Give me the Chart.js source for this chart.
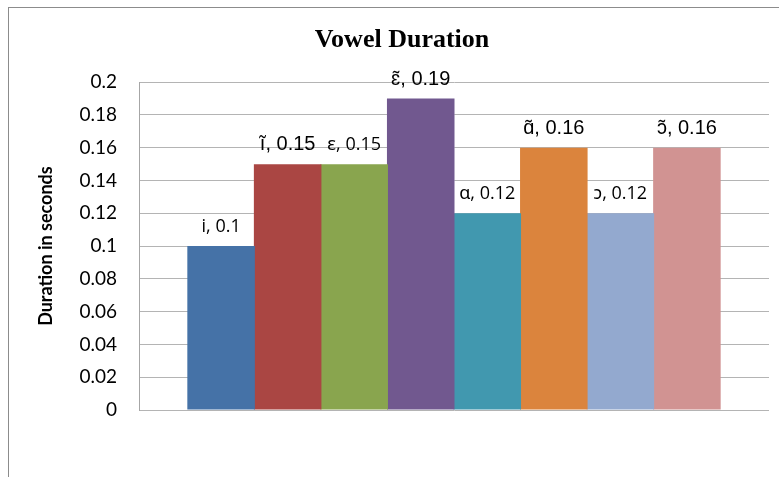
<!DOCTYPE html>
<html>
<head>
<meta charset="utf-8">
<script src="https://cdn.jsdelivr.net/npm/chart.js@4/dist/chart.umd.min.js"></script>
<style>
  html, body { margin: 0; padding: 0; background: #ffffff; overflow: hidden; }
  #wrap { position: relative; width: 779px; height: 477px; }
  #frame {
    position: absolute; left: 8px; top: 7px; width: 800px; height: 500px;
    border: 1px solid #8c8c8c; pointer-events: none;
  }
</style>
</head>
<body>
<div id="wrap">
  <canvas id="chart" width="779" height="477"></canvas>
  <div id="frame"></div>
</div>
<script>
// French vowels and their mean durations (seconds)
const vowels = ['i', 'ĩ', 'ɛ', 'ɛ̃', 'ɑ', 'ɑ̃', 'ɔ', 'ɔ̃'];
const durations = [0.10, 0.15, 0.15, 0.19, 0.12, 0.16, 0.12, 0.16];
const nasal = [false, true, false, true, false, true, false, true];
const yTicks = [0, 0.02, 0.04, 0.06, 0.08, 0.1, 0.12, 0.14, 0.16, 0.18, 0.2];
const palette = ['#4572A7', '#AA4643', '#89A54E', '#71588F', '#4198AF', '#DB843D', '#93A9CF', '#D19392'];

const datasets = vowels.map((v, i) => ({
  label: v,
  data: [durations[i]],
  backgroundColor: palette[i],
  borderWidth: 0,
  categoryPercentage: 0.845,
  barPercentage: 1.0
}));

// widen each column by a pixel so neighbouring columns meet without a seam
const closeSeams = {
  id: 'closeSeams',
  afterDatasetsUpdate(chart) {
    chart.data.datasets.forEach((ds, i) => {
      chart.getDatasetMeta(i).data.forEach(bar => { bar.width += 1; });
    });
  }
};

// "vowel, value" labels above each column
const valueLabels = {
  id: 'valueLabels',
  afterDatasetsDraw(chart) {
    const ctx = chart.ctx;
    ctx.save();
    ctx.fillStyle = '#000000';
    ctx.textAlign = 'center';
    ctx.textBaseline = 'alphabetic';
    chart.data.datasets.forEach((ds, i) => {
      const bar = chart.getDatasetMeta(i).data[0];
      ctx.font = nasal[i]
        ? '20px "Liberation Sans", "DejaVu Sans", sans-serif'
        : '18px "Open Sans", "Noto Sans", "DejaVu Sans", sans-serif';
      ctx.fillText(vowels[i] + ', ' + durations[i], bar.x, bar.y - 14);
    });
    ctx.restore();
  }
};

new Chart(document.getElementById('chart'), {
  type: 'bar',
  data: { labels: [''], datasets },
  options: {
    responsive: false,
    animation: false,
    layout: { padding: { left: 35, right: 10, top: 8, bottom: 67 } },
    plugins: {
      legend: { display: false },
      tooltip: { enabled: false },
      title: {
        display: true,
        text: 'Vowel Duration',
        color: '#000000',
        font: { family: '"Liberation Serif", "Times New Roman", serif', size: 26, weight: 'bold' },
        padding: { top: 17, bottom: 26 }
      }
    },
    scales: {
      x: { display: false },
      y: {
        min: 0,
        max: 0.2,
        afterBuildTicks: (axis) => { axis.ticks = yTicks.map(v => ({ value: v })); },
        afterFit: (axis) => { axis.width = 104; },
        ticks: {
          color: '#000000',
          padding: 22,
          font: { family: 'Lato, "Open Sans", sans-serif', size: 19 },
          callback: (v) => String(+Number(v).toFixed(2))
        },
        grid: { color: '#b4b4b4', lineWidth: 1, drawTicks: false },
        border: { display: true, color: '#a6a6a6' },
        title: {
          display: true,
          text: 'Duration in seconds',
          color: '#000000',
          font: { family: 'Lato, "Open Sans", sans-serif', size: 18, weight: 'bold' },
          padding: { top: 0, bottom: 0 }
        }
      }
    }
  },
  plugins: [closeSeams, valueLabels]
});
</script>
</body>
</html>
